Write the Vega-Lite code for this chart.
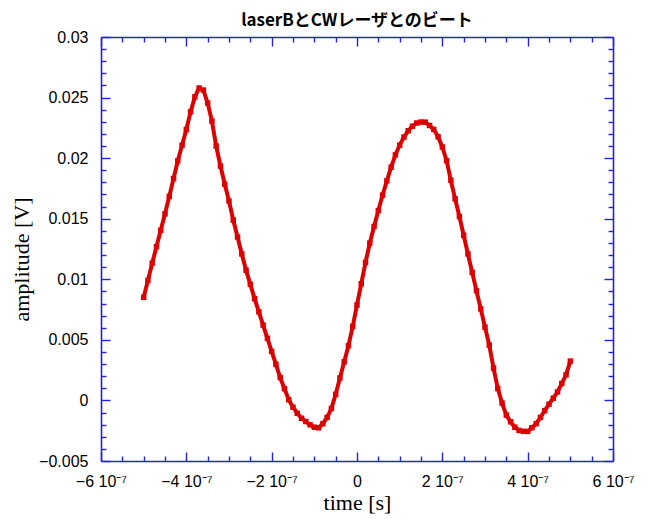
{
  "$schema": "https://vega.github.io/schema/vega-lite/v6.json",
  "width": 512,
  "height": 424,
  "autosize": {"type": "none"},
  "padding": {"left": 101, "top": 37, "right": 37, "bottom": 58},
  "background": "white",
  "title": {
    "text": "laserBとCWレーザとのビート",
    "font": "Noto Sans CJK JP",
    "fontSize": 17,
    "fontWeight": "bold",
    "color": "black",
    "anchor": "middle",
    "offset": -1
  },
  "config": {
    "view": {"stroke": null},
    "axis": {
      "grid": false,
      "domainColor": "#2424dc",
      "domainWidth": 1.6,
      "tickColor": "#2424dc",
      "tickWidth": 1.4,
      "labelFont": "Liberation Sans",
      "labelFontSize": 16,
      "labelColor": "black",
      "labelFlush": false,
      "labelOverlap": false,
      "titleFont": "Liberation Serif",
      "titleFontSize": 22,
      "titleFontWeight": "normal",
      "titleColor": "black"
    }
  },
  "data": {
    "values": [
      {"t": -5.0e-7, "v": 0.00851}, {"t": -4.9e-7, "v": 0.00991}, {"t": -4.8e-7, "v": 0.01133},
      {"t": -4.7e-7, "v": 0.01269}, {"t": -4.6e-7, "v": 0.01404}, {"t": -4.5e-7, "v": 0.01540},
      {"t": -4.4e-7, "v": 0.01684}, {"t": -4.3e-7, "v": 0.01831}, {"t": -4.2e-7, "v": 0.01978},
      {"t": -4.1e-7, "v": 0.02107}, {"t": -4.0e-7, "v": 0.02236}, {"t": -3.9e-7, "v": 0.02383},
      {"t": -3.8e-7, "v": 0.02506}, {"t": -3.7e-7, "v": 0.02579}, {"t": -3.6e-7, "v": 0.02562},
      {"t": -3.5e-7, "v": 0.02455}, {"t": -3.4e-7, "v": 0.02306}, {"t": -3.3e-7, "v": 0.02100},
      {"t": -3.2e-7, "v": 0.01935}, {"t": -3.1e-7, "v": 0.01786}, {"t": -3.0e-7, "v": 0.01646},
      {"t": -2.9e-7, "v": 0.01489}, {"t": -2.8e-7, "v": 0.01349}, {"t": -2.7e-7, "v": 0.01209},
      {"t": -2.6e-7, "v": 0.01075}, {"t": -2.5e-7, "v": 0.00958}, {"t": -2.4e-7, "v": 0.00840},
      {"t": -2.3e-7, "v": 0.00731}, {"t": -2.2e-7, "v": 0.00622}, {"t": -2.1e-7, "v": 0.00513},
      {"t": -2.0e-7, "v": 0.00405}, {"t": -1.9e-7, "v": 0.00297}, {"t": -1.8e-7, "v": 0.00189},
      {"t": -1.7e-7, "v": 0.00097}, {"t": -1.6e-7, "v": 0.00006}, {"t": -1.5e-7, "v": -0.00056},
      {"t": -1.4e-7, "v": -0.00106}, {"t": -1.3e-7, "v": -0.00147}, {"t": -1.2e-7, "v": -0.00174},
      {"t": -1.1e-7, "v": -0.00201}, {"t": -1.0e-7, "v": -0.00221}, {"t": -0.9e-7, "v": -0.00226},
      {"t": -0.8e-7, "v": -0.00192}, {"t": -0.7e-7, "v": -0.00140}, {"t": -0.6e-7, "v": -0.00067},
      {"t": -0.5e-7, "v": 0.00050}, {"t": -0.4e-7, "v": 0.00185}, {"t": -0.3e-7, "v": 0.00319},
      {"t": -0.2e-7, "v": 0.00452}, {"t": -0.1e-7, "v": 0.00611}, {"t": 0, "v": 0.00788},
      {"t": 0.1e-7, "v": 0.00963}, {"t": 0.2e-7, "v": 0.01139}, {"t": 0.3e-7, "v": 0.01299},
      {"t": 0.4e-7, "v": 0.01436}, {"t": 0.5e-7, "v": 0.01567}, {"t": 0.6e-7, "v": 0.01695},
      {"t": 0.7e-7, "v": 0.01813}, {"t": 0.8e-7, "v": 0.01925}, {"t": 0.9e-7, "v": 0.02027},
      {"t": 1.0e-7, "v": 0.02107}, {"t": 1.1e-7, "v": 0.02174}, {"t": 1.2e-7, "v": 0.02226},
      {"t": 1.3e-7, "v": 0.02264}, {"t": 1.4e-7, "v": 0.02290}, {"t": 1.5e-7, "v": 0.02298},
      {"t": 1.6e-7, "v": 0.02297}, {"t": 1.7e-7, "v": 0.02270}, {"t": 1.8e-7, "v": 0.02237},
      {"t": 1.9e-7, "v": 0.02177}, {"t": 2.0e-7, "v": 0.02092}, {"t": 2.1e-7, "v": 0.01979},
      {"t": 2.2e-7, "v": 0.01817}, {"t": 2.3e-7, "v": 0.01664}, {"t": 2.4e-7, "v": 0.01518},
      {"t": 2.5e-7, "v": 0.01363}, {"t": 2.6e-7, "v": 0.01209}, {"t": 2.7e-7, "v": 0.01057},
      {"t": 2.8e-7, "v": 0.00906}, {"t": 2.9e-7, "v": 0.00756}, {"t": 3.0e-7, "v": 0.00605},
      {"t": 3.1e-7, "v": 0.00457}, {"t": 3.2e-7, "v": 0.00267}, {"t": 3.3e-7, "v": 0.00098},
      {"t": 3.4e-7, "v": -0.00021}, {"t": 3.5e-7, "v": -0.00121}, {"t": 3.6e-7, "v": -0.00176},
      {"t": 3.7e-7, "v": -0.00221}, {"t": 3.8e-7, "v": -0.00248}, {"t": 3.9e-7, "v": -0.00255},
      {"t": 4.0e-7, "v": -0.00256}, {"t": 4.1e-7, "v": -0.00225}, {"t": 4.2e-7, "v": -0.00192},
      {"t": 4.3e-7, "v": -0.00140}, {"t": 4.4e-7, "v": -0.00084}, {"t": 4.5e-7, "v": -0.00031},
      {"t": 4.6e-7, "v": 0.00018}, {"t": 4.7e-7, "v": 0.00070}, {"t": 4.8e-7, "v": 0.00140},
      {"t": 4.9e-7, "v": 0.00211}, {"t": 5.0e-7, "v": 0.00325}
    ]
  },
  "layer": [
    {
      "mark": {"type": "line", "color": "#dd0000", "strokeWidth": 4},
      "encoding": {
        "x": {
          "field": "t", "type": "quantitative",
          "scale": {"domain": [-6e-7, 6e-7], "nice": false, "zero": false},
          "axis": {
            "orient": "bottom",
            "title": "time [s]",
            "titleY": 48,
            "titleBaseline": "alphabetic",
            "values": [-6e-7, -5.5e-7, -5e-7, -4.5e-7, -4e-7, -3.5e-7, -3e-7, -2.5e-7, -2e-7, -1.5e-7, -1e-7, -0.5e-7, 0, 0.5e-7, 1e-7, 1.5e-7, 2e-7, 2.5e-7, 3e-7, 3.5e-7, 4e-7, 4.5e-7, 5e-7, 5.5e-7, 6e-7],
            "tickSize": {"condition": {"test": "abs(round(datum.value*2e7)) % 4 == 0", "value": -9}, "value": -5},
            "labelPadding": 21,
            "labelExpr": "abs(round(datum.value*2e7)) % 4 == 0 ? (round(datum.value*1e7) == 0 ? '0' : replace(format(round(datum.value*1e7), 'd'), '-', '−') + ' 10⁻⁷') : ''"
          }
        },
        "y": {
          "field": "v", "type": "quantitative",
          "scale": {"domain": [-0.005, 0.03], "nice": false, "zero": false},
          "axis": {
            "orient": "left",
            "title": "amplitude [V]",
            "titleX": -73,
            "titleY": 222,
            "titleBaseline": "alphabetic",
            "values": [-0.005, -0.004, -0.003, -0.002, -0.001, 0, 0.001, 0.002, 0.003, 0.004, 0.005, 0.006, 0.007, 0.008, 0.009, 0.01, 0.011, 0.012, 0.013, 0.014, 0.015, 0.016, 0.017, 0.018, 0.019, 0.02, 0.021, 0.022, 0.023, 0.024, 0.025, 0.026, 0.027, 0.028, 0.029, 0.03],
            "tickSize": {"condition": {"test": "abs(round(datum.value*1000)) % 5 == 0", "value": -9}, "value": -5},
            "labelPadding": 22,
            "labelExpr": "abs(round(datum.value*1000)) % 5 == 0 ? format(datum.value, '') : ''"
          }
        }
      }
    },
    {
      "mark": {"type": "point", "shape": "square", "filled": true, "color": "#dd0000", "size": 30, "opacity": 1},
      "encoding": {
        "x": {
          "field": "t", "type": "quantitative",
          "axis": {
            "orient": "top",
            "title": null,
            "labels": false,
            "values": [-6e-7, -5.5e-7, -5e-7, -4.5e-7, -4e-7, -3.5e-7, -3e-7, -2.5e-7, -2e-7, -1.5e-7, -1e-7, -0.5e-7, 0, 0.5e-7, 1e-7, 1.5e-7, 2e-7, 2.5e-7, 3e-7, 3.5e-7, 4e-7, 4.5e-7, 5e-7, 5.5e-7, 6e-7],
            "tickSize": {"condition": {"test": "abs(round(datum.value*2e7)) % 4 == 0", "value": -9}, "value": -5}
          }
        },
        "y": {
          "field": "v", "type": "quantitative",
          "axis": {
            "orient": "right",
            "title": null,
            "labels": false,
            "values": [-0.005, -0.004, -0.003, -0.002, -0.001, 0, 0.001, 0.002, 0.003, 0.004, 0.005, 0.006, 0.007, 0.008, 0.009, 0.01, 0.011, 0.012, 0.013, 0.014, 0.015, 0.016, 0.017, 0.018, 0.019, 0.02, 0.021, 0.022, 0.023, 0.024, 0.025, 0.026, 0.027, 0.028, 0.029, 0.03],
            "tickSize": {"condition": {"test": "abs(round(datum.value*1000)) % 5 == 0", "value": -9}, "value": -5}
          }
        }
      }
    }
  ],
  "resolve": {"axis": {"x": "independent", "y": "independent"}}
}
